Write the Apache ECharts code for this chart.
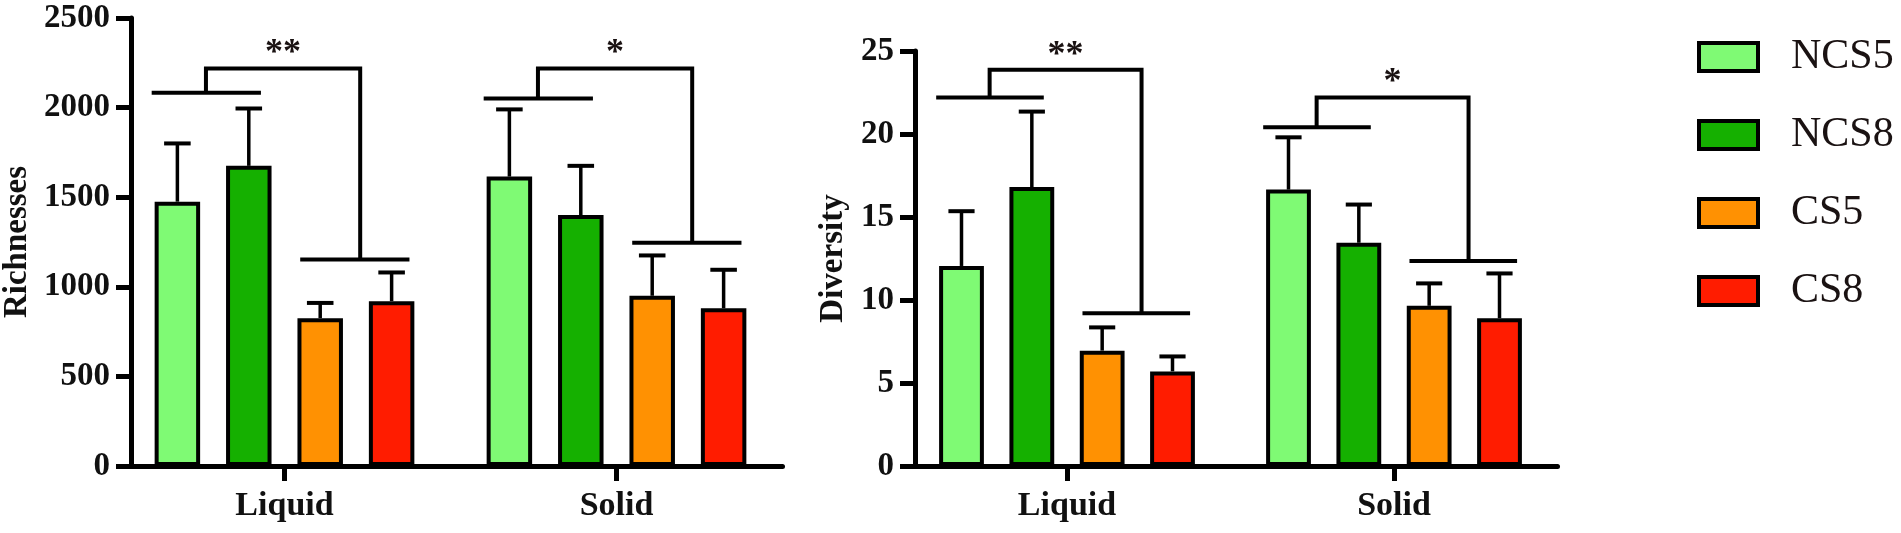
<!DOCTYPE html>
<html>
<head>
<meta charset="utf-8">
<script src="https://cdn.jsdelivr.net/npm/echarts@6/dist/echarts.min.js"></script>
<style>
html,body{margin:0;padding:0;background:#fff;}
#c{width:1901px;height:533px;}
</style>
</head>
<body>
<div id="c"></div>
<script>
// ---------------- data ----------------
const categories = ['Liquid', 'Solid'];
const seriesNames = ['NCS5', 'NCS8', 'CS5', 'CS8'];
const seriesColors = ['#7FFA74', '#15B000', '#FF9102', '#FF1C00'];

// Richnesses (mean, mean+SD) per series, per category
const richMean = [[1475, 1615], [1675, 1400], [825, 950], [920, 880]];
const richTop  = [[1800, 1990], [1995, 1675], [910, 1175], [1080, 1095]];
const richTicks = [0, 500, 1000, 1500, 2000, 2500];

// Diversity
const divMean = [[12.05, 16.65], [16.8, 13.45], [6.95, 9.65], [5.7, 8.9]];
const divTop  = [[15.35, 19.8], [21.35, 15.75], [8.35, 11.0], [6.6, 11.6]];
const divTicks = [0, 5, 10, 15, 20, 25];

// significance brackets: group line (NCS), top line, group line (CS)
const richBrNcs = [2083, 2051];
const richBrTop = [2218, 2218];
const richBrCs  = [1152, 1246];
const divBrNcs = [22.2, 20.4];
const divBrTop = [23.87, 22.2];
const divBrCs  = [9.2, 12.35];
const stars = ['**', '*'];

// ---------------- styling ----------------
const FONT = '"Liberation Serif", "Times New Roman", serif';
const BAR_W_FR = 0.137;
const GAP_FR = 0.57;
const PITCH_FR = BAR_W_FR * (1 + GAP_FR);
const CAP_FR = 0.08;

function errRender(params, api) {
  const cat = api.value(0), s = api.value(1), lo = api.value(2), hi = api.value(3);
  const band = api.size([1, 0])[0];
  const pitch = band * PITCH_FR;
  const cx = api.coord([cat, 0])[0] + (s - 1.5) * pitch;
  const yLo = api.coord([cat, lo])[1], yHi = api.coord([cat, hi])[1];
  const hw = band * CAP_FR / 2;
  return {
    type: 'group', children: [
      {type: 'line', shape: {x1: cx, y1: yLo, x2: cx, y2: yHi}, style: {stroke: '#000', lineWidth: 3.5}},
      {type: 'line', shape: {x1: cx - hw, y1: yHi, x2: cx + hw, y2: yHi}, style: {stroke: '#000', lineWidth: 4}}
    ]
  };
}

function brRender(params, api) {
  const cat = api.value(0), ncs = api.value(1), top = api.value(2), cs = api.value(3);
  const band = api.size([1, 0])[0];
  const p = band * PITCH_FR;
  const c = api.coord([cat, 0])[0];
  const yN = api.coord([cat, ncs])[1], yT = api.coord([cat, top])[1], yC = api.coord([cat, cs])[1];
  const xl = c - 1.1 * p, xr = c + 1.06 * p;
  const st = {stroke: '#000', lineWidth: 4, fill: null};
  return {
    type: 'group', children: [
      {type: 'line', shape: {x1: c - 1.86 * p, y1: yN, x2: c - 0.33 * p, y2: yN}, style: st},
      {type: 'line', shape: {x1: c + 0.22 * p, y1: yC, x2: c + 1.75 * p, y2: yC}, style: st},
      {type: 'polyline', shape: {points: [[xl, yN], [xl, yT], [xr, yT], [xr, yC]]}, style: st},
      {type: 'text', style: {text: stars[params.dataIndex], x: (xl + xr) / 2, y: yT - 14.5,
        align: 'center', verticalAlign: 'middle', fontSize: 36, fontWeight: 'bold', fontFamily: FONT, fill: '#1a1212'}}
    ]
  };
}

function axisPair(idx, ticks, name, nameGap, offset) {
  const x = {
    type: 'category', gridIndex: idx, data: categories,
    axisLine: {show: true, lineStyle: {color: '#000', width: 5}},
    axisTick: {show: true, alignWithLabel: true, length: 15, lineStyle: {color: '#000', width: 5}},
    axisLabel: {show: true, margin: 23, color: '#111', fontSize: 34, fontWeight: 'bold', fontFamily: FONT},
    splitLine: {show: false}
  };
  const y = {
    type: 'value', gridIndex: idx, min: ticks[0], max: ticks[ticks.length - 1],
    interval: ticks[1] - ticks[0], offset: offset,
    name: name, nameLocation: 'middle', nameGap: nameGap, nameRotate: 90,
    nameTextStyle: {color: '#111', fontSize: 33, fontWeight: 'bold', fontFamily: FONT},
    axisLine: {show: true, lineStyle: {color: '#000', width: 5}},
    axisTick: {show: true, length: 15, lineStyle: {color: '#000', width: 5}},
    axisLabel: {show: true, margin: 21, color: '#111', fontSize: 33, fontWeight: 'bold', fontFamily: FONT,
      formatter: (v) => String(v)},
    splitLine: {show: false}
  };
  return [x, y];
}

const [x0, y0] = axisPair(0, richTicks, 'Richnesses', 97, -12.5);
const [x1, y1] = axisPair(1, divTicks, 'Diversity', 65, -11.5);

const series = [];
function addChart(idx, means, tops, brN, brT, brC) {
  seriesNames.forEach((n, s) => {
    series.push({
      type: 'bar', name: n, xAxisIndex: idx, yAxisIndex: idx,
      data: means[s], barWidth: (BAR_W_FR * 100) + '%', barGap: (GAP_FR * 100) + '%',
      itemStyle: {color: seriesColors[s], borderColor: '#000', borderWidth: 4},
      emphasis: {disabled: true}, z: 2
    });
  });
  const errData = [];
  seriesNames.forEach((n, s) => {
    categories.forEach((c, k) => errData.push([k, s, means[s][k], tops[s][k]]));
  });
  series.push({
    type: 'custom', xAxisIndex: idx, yAxisIndex: idx, renderItem: errRender,
    data: errData, encode: {x: 0, y: 3}, z: 3, silent: true
  });
  series.push({
    type: 'custom', xAxisIndex: idx, yAxisIndex: idx, renderItem: brRender,
    data: categories.map((c, k) => [k, brN[k], brT[k], brC[k]]), encode: {x: 0, y: 2}, z: 3, silent: true
  });
}
addChart(0, richMean, richTop, richBrNcs, richBrTop, richBrCs);
addChart(1, divMean, divTop, divBrNcs, divBrTop, divBrCs);

const chart = echarts.init(document.getElementById('c'), null, {renderer: 'canvas'});
chart.setOption({
  backgroundColor: '#fff',
  animation: false,
  tooltip: {show: false},
  grid: [
    {left: 118.5, width: 664, top: 18, height: 448, outerBoundsMode: 'none'},
    {left: 903.5, width: 654, top: 51, height: 415, outerBoundsMode: 'none'}
  ],
  xAxis: [x0, x1],
  yAxis: [y0, y1],
  legend: {
    data: seriesNames, orient: 'vertical', left: 1697, top: 36, padding: 0,
    icon: 'rect', itemWidth: 59, itemHeight: 28, itemGap: 36, selectedMode: false,
    itemStyle: {borderColor: '#000', borderWidth: 4},
    textStyle: {color: '#1a1212', fontSize: 42, fontFamily: FONT, lineHeight: 32, padding: [0, 0, 0, 28]}
  },
  series: series
});
</script>
</body>
</html>
